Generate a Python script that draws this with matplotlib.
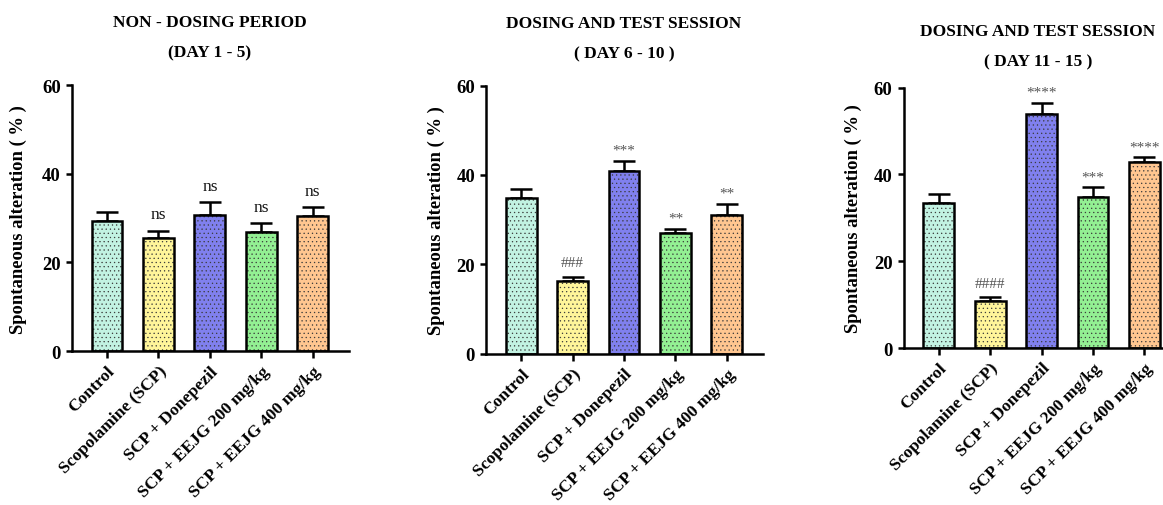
import matplotlib.pyplot as plt

plt.rcParams['font.family'] = ['Liberation Serif', 'DejaVu Serif']
plt.rcParams['font.weight'] = 'bold'
plt.rcParams['hatch.linewidth'] = 0.4

groups = ['Control', 'Scopolamine (SCP)', 'SCP + Donepezil',
          'SCP + EEJG 200 mg/kg', 'SCP + EEJG 400 mg/kg']
colors = ['#c2f2e2', '#fff59a', '#8080ee', '#93f093', '#ffc690']

# mean and SEM, one list per period
day1_5_mean = [29.4, 25.5, 30.7, 26.9, 30.5]
day1_5_sem = [2.0, 1.7, 2.9, 2.0, 1.9]
day1_5_marks = ['', 'ns', 'ns', 'ns', 'ns']

day6_10_mean = [34.8, 16.3, 40.8, 26.9, 31.0]
day6_10_sem = [2.1, 0.9, 2.4, 1.1, 2.5]
day6_10_marks = ['', '###', '***', '**', '**']

day11_15_mean = [33.5, 10.9, 54.0, 34.8, 42.8]
day11_15_sem = [1.9, 0.9, 2.5, 2.3, 1.2]
day11_15_marks = ['', '####', '****', '***', '****']

panels = [
    ('NON - DOSING PERIOD', '(DAY 1 - 5)', day1_5_mean, day1_5_sem, day1_5_marks,
     [0.0619, 0.304, 0.238, 0.526], 210, 0.955, 0.895, '#111111', -0.162),
    ('DOSING AND TEST SESSION', '( DAY 6 - 10 )', day6_10_mean, day6_10_sem, day6_10_marks,
     [0.418, 0.299, 0.238, 0.530], 624, 0.953, 0.893, '#555555', -0.148),
    ('DOSING AND TEST SESSION', '( DAY 11 - 15 )', day11_15_mean, day11_15_sem, day11_15_marks,
     [0.777, 0.310, 0.238, 0.515], 1038, 0.937, 0.877, '#555555', -0.152),
]

fig = plt.figure(figsize=(11.63, 5.06), dpi=100)

for title1, title2, mean, sem, marks, rect, cx, ty1, ty2, mcol, lx in panels:
    ax = fig.add_axes(rect)
    x = range(len(groups))
    # dotted fill first (grey dots), then the black outline on top
    ax.bar(x, mean, width=0.6, color=colors, edgecolor='#3a3a3a', linewidth=0,
           hatch='....', zorder=2)
    ax.bar(x, mean, width=0.6, fill=False, edgecolor='black', linewidth=1.8, zorder=3)
    ax.errorbar(x, mean, yerr=[[0] * len(sem), sem], fmt='none', ecolor='black',
                elinewidth=1.8, capsize=8, capthick=1.8, zorder=1)
    for i, m in enumerate(marks):
        if not m:
            continue
        off = 3.7 if m == 'ns' else (3.1 if m.startswith('#') else 2.4)
        ax.text(i, mean[i] + sem[i] + off, m, ha='center', va='center',
                fontsize=12.5 if m == 'ns' else 11, fontweight='normal', color=mcol)
    ax.set_xlim(-0.68, 4.7)
    ax.set_ylim(0, 60)
    ax.set_yticks([0, 20, 40, 60])
    ax.set_xticks(list(x))
    ax.set_xticklabels(groups, rotation=45, ha='right', rotation_mode='anchor',
                       fontsize=12.6, fontweight='bold')
    ax.tick_params(axis='y', labelsize=13.5, width=1.8, length=4.5)
    ax.tick_params(axis='x', width=1.8, length=5)
    for lab in ax.get_yticklabels():
        lab.set_fontweight('bold')
    ax.spines['top'].set_visible(False)
    ax.spines['right'].set_visible(False)
    ax.spines['left'].set_linewidth(1.8)
    ax.spines['bottom'].set_linewidth(1.8)
    ax.set_ylabel('Spontaneous alteration ( % )', fontsize=13.4, fontweight='bold')
    ax.yaxis.set_label_coords(lx, 0.5)
    fig.text(cx / 1163, ty1, title1, ha='center', va='center', fontsize=12.5, fontweight='bold')
    fig.text(cx / 1163, ty2, title2, ha='center', va='center', fontsize=12.5, fontweight='bold')

fig.savefig('out.png', dpi=100)
